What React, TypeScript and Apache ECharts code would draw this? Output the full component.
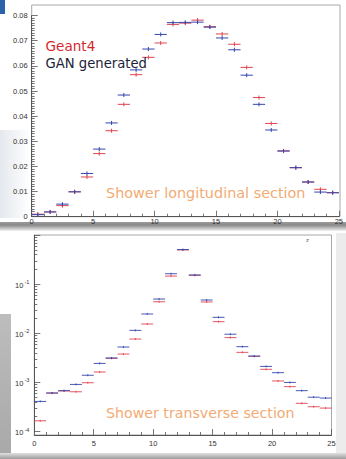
import React, { useEffect, useRef } from 'react';
import * as echarts from 'echarts';

// bin lower edges (bins are 1 unit wide)
const binEdges = [0, 1, 2, 3, 4, 5, 6, 7, 8, 9, 10, 11, 12, 13, 14, 15, 16, 17, 18, 19, 20, 21, 22, 23, 24];

// Shower longitudinal section (linear)
const longGeant4 = [0.0010, 0.0019, 0.0044, 0.0099, 0.0158, 0.0251, 0.0342, 0.0447, 0.0565, 0.0634, 0.0691, 0.0765, 0.0770, 0.0782, 0.0756, 0.0727, 0.0686, 0.0594, 0.0474, 0.0371, 0.0262, 0.0195, 0.0138, 0.0109, 0.0096];
const longGAN = [0.0008, 0.0019, 0.0050, 0.0099, 0.0172, 0.0269, 0.0373, 0.0484, 0.0584, 0.0667, 0.0725, 0.0772, 0.0773, 0.0774, 0.0754, 0.0711, 0.0664, 0.0563, 0.0447, 0.0345, 0.0261, 0.0195, 0.0138, 0.0098, 0.0095];

// Shower transverse section (log)
const transGeant4 = [1.65e-4, 6.05e-4, 6.7e-4, 6.45e-4, 9.85e-4, 1.63e-3, 3.1e-3, 3.78e-3, 7.66e-3, 1.55e-2, 4.4e-2, 0.147, 0.50, 0.152, 0.0436, 0.0173, 8.2e-3, 4.1e-3, 3.4e-3, 1.85e-3, 1.07e-3, 8.2e-4, 3.75e-4, 3.2e-4, 3.0e-4];
const transGAN = [4.1e-4, 6.1e-4, 6.8e-4, 9.1e-4, 1.4e-3, 2.44e-3, 3.15e-3, 5.26e-3, 1.15e-2, 2.48e-2, 5.0e-2, 0.164, 0.51, 0.155, 0.0478, 0.0212, 9.6e-3, 5.35e-3, 3.45e-3, 2.12e-3, 1.58e-3, 1.0e-3, 6.8e-4, 5.0e-4, 4.8e-4];

const logMajorTicks = [1e-4, 1e-3, 1e-2, 1e-1, 1];
const logLabelTicks = [1e-4, 1e-3, 1e-2, 1e-1];

const RED = '#e2444f';
const BLUE = '#3346ad';

const pairs = (vals: number[]) => binEdges.map((e, i) => [e, vals[i]]);

const makeRender = (color: string, half: number, lw: number) => (params: any, api: any) => {
  const x0 = api.value(0);
  const v = api.value(1);
  const a = api.coord([x0, v]);
  const b = api.coord([x0 + 1, v]);
  const cx = (a[0] + b[0]) / 2;
  return {
    type: 'group',
    children: [
      { type: 'line', shape: { x1: a[0], y1: a[1], x2: b[0], y2: b[1] }, style: { stroke: color, lineWidth: lw } },
      { type: 'line', shape: { x1: cx, y1: a[1] - half, x2: cx, y2: a[1] + half }, style: { stroke: color, lineWidth: lw } },
    ],
  };
};

export default function App() {
  const ref = useRef<HTMLDivElement>(null);
  useEffect(() => {
    if (!ref.current) return;
    const chart = echarts.init(ref.current, null, { renderer: 'svg' });

    const minorLog: number[] = [];
    for (let e = -4; e < 0; e++) {
      for (let k = 2; k <= 9; k++) minorLog.push(parseFloat((k * Math.pow(10, e)).toPrecision(3)));
    }

    const axisFont = { fontFamily: 'Liberation Sans', fontSize: 7.5, color: '#333' };
    const tickLine = { color: '#555', width: 0.8 };
    const annot = { fontFamily: 'DejaVu Sans', textVerticalAlign: 'middle' };

    const option: any = {
      animation: false,
      backgroundColor: '#ffffff',
      grid: [
        { left: 31.7, top: 15.6, width: 308.3, height: 201.1, show: false },
        { left: 34.3, top: 235.2, width: 297.2, height: 196.3, show: false },
      ],
      xAxis: [
        {
          gridIndex: 0, type: 'value', min: 0, max: 25, interval: 5,
          axisLine: { show: true, onZero: false, lineStyle: { color: '#555', width: 1 } },
          axisTick: { show: true, inside: true, length: 6, lineStyle: tickLine },
          minorTick: { show: true, splitNumber: 5, length: 3, lineStyle: tickLine },
          axisLabel: { ...axisFont, margin: 1 },
          splitLine: { show: false },
        },
        {
          gridIndex: 1, type: 'value', min: 0, max: 25, interval: 5, offset: 3.5,
          axisLine: { show: true, onZero: false, lineStyle: { color: '#555', width: 1 } },
          axisTick: { show: true, inside: true, length: 6, lineStyle: tickLine },
          minorTick: { show: true, splitNumber: 5, length: 3, lineStyle: tickLine },
          axisLabel: { ...axisFont, margin: 4 },
          splitLine: { show: false },
        },
      ],
      yAxis: [
        {
          gridIndex: 0, type: 'value', min: 0, max: 0.08, interval: 0.01, position: 'left',
          axisLine: { show: true, onZero: false, lineStyle: { color: '#555', width: 1 } },
          axisTick: { show: true, inside: true, length: 6, lineStyle: tickLine },
          minorTick: { show: true, splitNumber: 10, length: 3, lineStyle: tickLine },
          axisLabel: { ...axisFont, margin: 4, formatter: (v: number) => (v === 0 ? '0' : v.toFixed(2)) },
          splitLine: { show: false },
        },
        {
          gridIndex: 1, type: 'log', logBase: 10, min: 1e-4, max: 1, position: 'left',
          axisLine: { show: true, onZero: false, lineStyle: { color: '#555', width: 1 } },
          axisTick: { show: true, inside: true, length: 6, lineStyle: tickLine, customValues: logMajorTicks },
          axisLabel: {
            margin: 5,
            customValues: logLabelTicks,
            formatter: (v: number) => '{a|10}{b|' + Math.round(Math.log10(v)) + '}',
            rich: {
              a: { fontFamily: 'Liberation Sans', fontSize: 7.5, color: '#333', lineHeight: 10, verticalAlign: 'bottom' },
              b: { fontFamily: 'Liberation Sans', fontSize: 5.5, color: '#333', verticalAlign: 'top', padding: [0, 0, 4, 1] },
            },
          },
          splitLine: { show: false },
        },
        {
          gridIndex: 1, type: 'log', logBase: 10, min: 1e-4, max: 1, position: 'left', offset: 0,
          axisLine: { show: false },
          axisTick: { show: true, inside: true, length: 3, lineStyle: tickLine, customValues: minorLog },
          axisLabel: { show: false },
          splitLine: { show: false },
        },
      ],
      graphic: [
        // slide decorations
        { type: 'rect', z: -10, shape: { x: 0, y: 0, width: 5, height: 14 }, style: { fill: '#2b62aa' } },
        { type: 'rect', z: -10, shape: { x: 0, y: 130, width: 30, height: 88 }, style: { fill: new echarts.graphic.LinearGradient(0, 0, 1, 0, [{ offset: 0, color: '#e4e8ee' }, { offset: 1, color: '#ffffff' }]) } },
        { type: 'rect', z: -10, shape: { x: 0, y: 222, width: 346, height: 9 }, style: { fill: new echarts.graphic.LinearGradient(0, 0, 0, 1, [{ offset: 0, color: '#9a9a9a' }, { offset: 0.35, color: '#8a8a8a' }, { offset: 1, color: '#f2f2f2' }]) } },
        { type: 'rect', z: -10, shape: { x: 0, y: 314, width: 11, height: 145 }, style: { fill: new echarts.graphic.LinearGradient(0, 0, 0, 1, [{ offset: 0, color: '#bdbdbd' }, { offset: 1, color: '#a8a8a8' }]) } },
        { type: 'rect', z: -10, shape: { x: 336, y: 233, width: 10, height: 220 }, style: { fill: '#ececec' } },
        { type: 'rect', z: -10, shape: { x: 0, y: 453, width: 346, height: 6 }, style: { fill: new echarts.graphic.LinearGradient(0, 0, 0, 1, [{ offset: 0, color: '#e0e0e0' }, { offset: 1, color: '#9c9c9c' }]) } },
        // frames
        { type: 'rect', z: -5, shape: { x: 31.7, y: 5, width: 308.3, height: 211.7 }, style: { fill: '#ffffff', stroke: '#a8a8a8', lineWidth: 1 } },
        { type: 'rect', z: -5, shape: { x: 34.3, y: 235, width: 297.2, height: 200 }, style: { fill: '#ffffff', stroke: '#a8a8a8', lineWidth: 1 } },
        // annotations
        { type: 'text', z: 50, x: 45.5, y: 45.7, style: { ...annot, text: 'Geant4', fill: '#d6262d', fontSize: 13.6, lineHeight: 15 } },
        { type: 'text', z: 50, x: 45.5, y: 63.3, style: { ...annot, text: 'GAN generated', fill: '#1b2238', fontSize: 13.2, lineHeight: 15 } },
        { type: 'text', z: 50, x: 106, y: 193, style: { ...annot, text: 'Shower longitudinal section', fill: '#f2ab74', fontSize: 14.4 } },
        { type: 'text', z: 50, x: 106, y: 412.7, style: { ...annot, text: 'Shower transverse section', fill: '#f2ab74', fontSize: 14.2 } },
        { type: 'text', z: 50, x: 306, y: 237, style: { text: 'z', fill: '#666', fontFamily: 'Liberation Sans', fontSize: 6 } },
      ],
      series: [
        { type: 'custom', name: 'Geant4 long', xAxisIndex: 0, yAxisIndex: 0, data: pairs(longGeant4), encode: { x: 0, y: 1 }, renderItem: makeRender(RED, 2, 1), z: 3 },
        { type: 'custom', name: 'GAN long', xAxisIndex: 0, yAxisIndex: 0, data: pairs(longGAN), encode: { x: 0, y: 1 }, renderItem: makeRender(BLUE, 2, 1), z: 4 },
        { type: 'custom', name: 'Geant4 trans', xAxisIndex: 1, yAxisIndex: 1, data: pairs(transGeant4), encode: { x: 0, y: 1 }, renderItem: makeRender(RED, 1, 0.9), z: 3 },
        { type: 'custom', name: 'GAN trans', xAxisIndex: 1, yAxisIndex: 1, data: pairs(transGAN), encode: { x: 0, y: 1 }, renderItem: makeRender(BLUE, 1, 0.9), z: 4 },
      ],
    };
    chart.setOption(option);
    return () => chart.dispose();
  }, []);
  return <div ref={ref} style={{ position: 'fixed', left: 0, top: 0, width: 346, height: 459, background: '#fff' }} />;
}
